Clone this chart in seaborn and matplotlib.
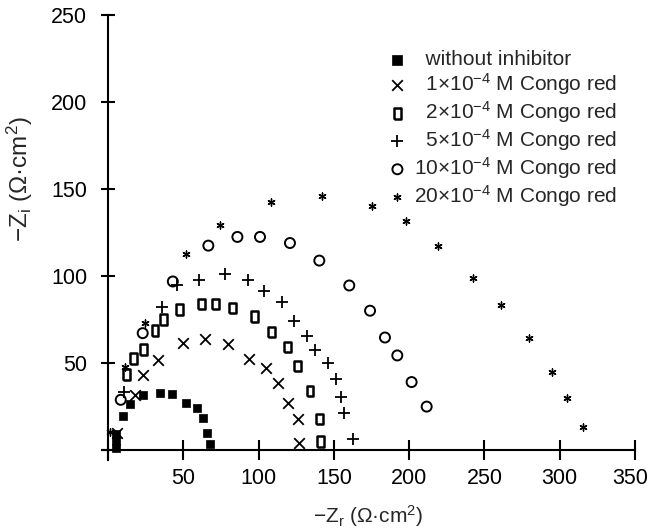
import numpy as np
import pandas as pd
import matplotlib
matplotlib.use("Agg")
import matplotlib.pyplot as plt
import matplotlib.transforms as mtransforms
import seaborn as sns

# Nyquist data: real part (-Zr) and imaginary part (-Zi), ohm*cm^2
blank_zr = [5.5, 5.5, 5.5, 9.7, 14.6, 23.4, 34.5, 42.7, 51.8, 59.3, 63.3, 66.0, 67.7]
blank_zi = [1.0, 5.0, 9.0, 19.7, 26.3, 31.6, 32.8, 32.0, 27.2, 24.0, 18.6, 10.0, 3.3]

c1_zr = [6.2, 17.9, 23.0, 33.4, 49.6, 64.4, 79.5, 93.8, 104.9, 113.1, 119.7, 126.0, 127.0]
c1_zi = [10.0, 31.6, 43.0, 51.8, 61.7, 63.7, 61.0, 52.4, 47.0, 38.4, 26.9, 17.8, 4.2]

c2_zr = [12.0, 16.8, 23.4, 31.2, 36.7, 47.3, 61.8, 71.5, 82.8, 97.2, 108.7, 119.1,
         126.0, 134.1, 140.3, 140.8]
c2_zi = [43.5, 52.4, 57.9, 68.5, 74.8, 80.6, 83.8, 83.8, 81.5, 76.7, 67.7, 59.1,
         48.3, 33.9, 17.8, 4.8]

c5_zr = [10.6, 36.0, 46.0, 60.4, 77.7, 93.2, 103.6, 115.3, 123.5, 132.3, 137.5,
         146.3, 151.4, 154.5, 156.7, 162.5]
c5_zi = [33.2, 81.9, 94.9, 97.8, 101.3, 97.4, 91.1, 84.8, 74.2, 65.2, 57.5,
         49.9, 40.7, 30.7, 21.1, 6.2]

c10_zr = [8.4, 23.0, 43.0, 66.6, 85.9, 100.9, 120.8, 140.3, 160.2, 174.0, 183.9,
          192.1, 201.6, 211.6]
c10_zi = [28.8, 67.1, 96.8, 117.4, 122.4, 122.4, 118.9, 108.8, 94.5, 80.0, 64.6,
          54.3, 39.0, 24.9]

c20_zr = [1.3, 11.3, 24.6, 51.8, 74.4, 108.0, 141.9, 175.1, 197.7, 219.3, 242.6,
          261.0, 279.8, 294.6, 304.9, 315.2]
c20_zi = [10.5, 47.9, 73.2, 112.8, 129.5, 142.5, 145.8, 140.0, 131.4, 117.4, 98.8,
          83.4, 64.3, 44.5, 29.7, 13.1]

labels = [
    "  without inhibitor",
    "  1×10$^{-4}$ M Congo red",
    "  2×10$^{-4}$ M Congo red",
    "  5×10$^{-4}$ M Congo red",
    "10×10$^{-4}$ M Congo red",
    "20×10$^{-4}$ M Congo red",
]

x_ticks = [0, 50, 100, 150, 200, 250, 300, 350]
y_ticks = [0, 50, 100, 150, 200, 250]

sns.set_style("white")
plt.rcParams["font.family"] = ["Liberation Sans", "DejaVu Sans"]
plt.rcParams["mathtext.fontset"] = "custom"
plt.rcParams["mathtext.rm"] = "Liberation Sans"
plt.rcParams["mathtext.it"] = "Liberation Sans:italic"
plt.rcParams["mathtext.bf"] = "Liberation Sans:bold"

fig = plt.figure(figsize=(6.5, 5.31), dpi=100)
ax = fig.add_axes([0.157, 0.133, 0.820, 0.839])

tall_rect = [(-0.32, -0.5), (0.32, -0.5), (0.32, 0.5), (-0.32, 0.5), (-0.32, -0.5)]

series = [
    (blank_zr, blank_zi, dict(marker="s", s=36, color="black", edgecolor="black", linewidth=0.5)),
    (c1_zr, c1_zi, dict(marker="x", s=58, color="black", linewidth=1.3)),
    (c2_zr, c2_zi, dict(marker=tall_rect, s=60, facecolor="none", edgecolor="black", linewidth=1.8)),
    (c5_zr, c5_zi, dict(marker="+", s=80, color="black", linewidth=1.3)),
    (c10_zr, c10_zi, dict(marker="o", s=52, facecolor="none", edgecolor="black", linewidth=1.4)),
    (c20_zr, c20_zi, dict(marker=(6, 2, 0), s=26, color="black", linewidth=1.0)),
]

for (zr, zi, kw), lab in zip(series, labels):
    df = pd.DataFrame({"Zr": zr, "Zi": zi})
    sns.scatterplot(data=df, x="Zr", y="Zi", ax=ax, label=lab, **kw)

ax.set_xlim(-4, 350)
ax.set_ylim(-6, 250)

for side in ("top", "right"):
    ax.spines[side].set_visible(False)
ax.spines["left"].set_position(("data", 0))
ax.spines["bottom"].set_position(("data", 0))
for side in ("left", "bottom"):
    ax.spines[side].set_linewidth(1.5)
    ax.spines[side].set_color("black")

ax.set_xticks(x_ticks)
ax.set_xticklabels([""] + [str(v) for v in x_ticks[1:]])
ax.set_yticks(y_ticks)
ax.set_yticklabels([""] + [str(v) for v in y_ticks[1:]])
ax.tick_params(axis="x", direction="inout", length=14, width=1.5, pad=6,
               labelsize=15.5, colors="black", bottom=True)
ax.tick_params(axis="y", direction="inout", length=10, width=1.5, pad=10,
               labelsize=15.5, colors="black", left=True)

# keep the last x tick label inside the figure
last = ax.get_xticklabels()[-1]
last.set_transform(last.get_transform()
                   + mtransforms.ScaledTranslation(-5 / 100, 0, fig.dpi_scale_trans))

ax.set_xlabel("−Z$_\\mathrm{r}$ (Ω·cm$^2$)", fontsize=15)
ax.set_ylabel("−Z$_\\mathrm{i}$ (Ω·cm$^2$)", fontsize=17.5)
ax.xaxis.set_label_coords(0.499, -0.095)
ax.yaxis.set_label_coords(-0.125, 0.632)

leg = ax.legend(loc="upper left", bbox_to_anchor=(387 / 650, 1 - 50 / 531),
                bbox_transform=fig.transFigure, frameon=False, fontsize=15,
                handlelength=1.0, handletextpad=0.3, labelspacing=0.1,
                borderpad=0, borderaxespad=0)
leg.legend_handles[0].set_sizes([60])

fig.savefig("out.png", dpi=100)
